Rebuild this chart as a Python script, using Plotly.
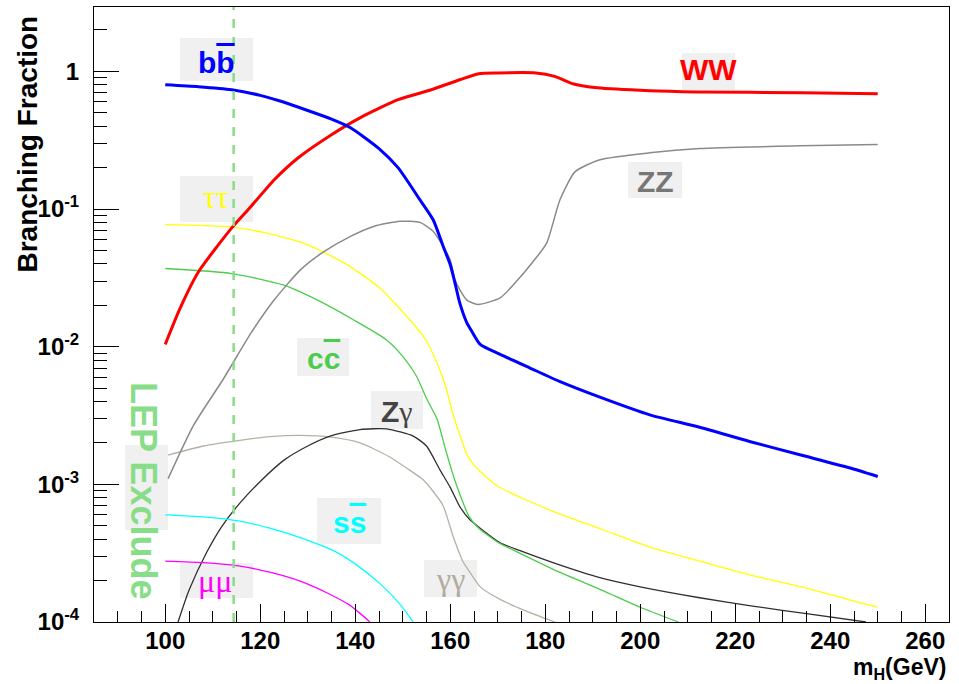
import plotly.graph_objects as go

# ---------------- data ----------------
mass_bb = [100, 107, 114, 120, 124, 130, 135, 139, 145, 149, 153.6, 156.4, 158.5, 160, 161, 162,
           163.5, 164.5, 166.3, 170.5, 176.8, 183, 191.5, 202, 212.5, 223, 233.6, 244, 250]
br_bb = [0.80, 0.775, 0.736, 0.67, 0.612, 0.52, 0.45, 0.39, 0.275, 0.2, 0.117, 0.0836, 0.0537, 0.0394,
         0.029, 0.0208, 0.0149, 0.013, 0.0104, 0.0088, 0.0070, 0.0056, 0.0043, 0.0032, 0.0026,
         0.00205, 0.00164, 0.00132, 0.00114]

mass_ww = [100, 103, 107, 114, 118, 123, 128, 135, 141, 149, 156, 162, 166, 170, 178, 182, 186,
           191, 202, 212, 234, 250]
br_ww = [0.0104, 0.0186, 0.035, 0.073, 0.104, 0.164, 0.236, 0.347, 0.46, 0.623, 0.736, 0.87,
         0.962, 0.975, 0.975, 0.92, 0.81, 0.76, 0.724, 0.71, 0.70, 0.689]

mass_zz = [100.6, 106, 112.2, 118, 123, 128.4, 133, 138.9, 144, 149.4, 153.6, 156.4, 158.5, 160,
           161, 162, 163.5, 165.8, 170.5, 174, 177.5, 180.3, 183.1, 186.3, 191.5, 202, 212.5,
           233.6, 250]
br_zz = [0.0011, 0.0027, 0.0058, 0.0125, 0.022, 0.036, 0.048, 0.063, 0.075, 0.0815, 0.08, 0.069,
         0.0535, 0.0427, 0.0306, 0.026, 0.0218, 0.0203, 0.0226, 0.030, 0.0418, 0.0566, 0.117,
         0.187, 0.228, 0.256, 0.275, 0.288, 0.295]

mass_tautau = [100, 114, 122, 130, 138, 145, 151.5, 155, 157.2, 159, 160.5, 162, 163.5, 165, 167,
               170, 176, 183, 192, 202, 212, 223, 234, 244, 250]
br_tautau = [0.077, 0.074, 0.066, 0.055, 0.04, 0.027, 0.0157, 0.011, 0.0076, 0.0052, 0.0033,
             0.0023, 0.00165, 0.00138, 0.00118, 0.00097, 0.00077, 0.00061, 0.00047, 0.00035,
             0.00028, 0.00022, 0.00018, 0.000145, 0.000128]

mass_cc = [100, 114, 125, 133, 139.6, 146.6, 150, 152.9, 155, 157.2, 159, 160.5, 162, 164, 166,
           170, 176, 183, 192, 200, 208]
br_cc = [0.037, 0.034, 0.028, 0.021, 0.0157, 0.0112, 0.0085, 0.0061, 0.0042, 0.0030, 0.0018,
         0.0012, 0.00085, 0.00058, 0.00048, 0.00038, 0.0003, 0.00023, 0.00017, 0.000128, 0.0001]

mass_zgam = [102.7, 105, 108.7, 112, 115.7, 120, 125, 130, 134.7, 141, 146.6, 152.2, 155, 157.8,
             160, 162, 164, 166.3, 170.5, 174.7, 183, 191.5, 200, 212.5, 224, 235, 247.5]
br_zgam = [1e-4, 1.7e-4, 3.2e-4, 5e-4, 7.3e-4, 0.00105, 0.0015, 0.0019, 0.00224, 0.0025, 0.00253,
           0.00224, 0.0019, 0.00128, 0.00095, 0.00069, 0.00056, 0.00048, 0.000376, 0.00033,
           0.00026, 0.00021, 0.00018, 0.00015, 0.00013, 0.000115, 0.0001]

mass_gamgam = [100.6, 108, 115.7, 122, 128.4, 135, 141, 147, 151, 154.3, 156.5, 158.5, 160.6,
               162.7, 164.5, 166.3, 170.5, 176, 182]
br_gamgam = [0.00163, 0.0019, 0.00209, 0.00222, 0.00227, 0.0022, 0.002, 0.0016, 0.0013, 0.00108,
             0.00088, 0.0007, 0.00042, 0.000274, 0.00022, 0.00018, 0.000146, 0.00012, 0.0001]

mass_ss = [100, 108, 115.7, 122, 128.4, 135.4, 139.6, 145.2, 149.4, 152.2]
br_ss = [6.0e-4, 5.8e-4, 5.4e-4, 4.8e-4, 4.1e-4, 3.3e-4, 2.7e-4, 1.9e-4, 1.35e-4, 1.0e-4]

mass_mumu = [100, 108, 115.7, 122, 128.4, 134, 138.9, 143.1]
br_mumu = [2.77e-4, 2.7e-4, 2.55e-4, 2.3e-4, 1.98e-4, 1.63e-4, 1.32e-4, 1.0e-4]

lep_limit = 114.4

x_ticks = [100, 120, 140, 160, 180, 200, 220, 240, 260]
y_ticks = [1e-4, 1e-3, 1e-2, 1e-1, 1]
y_ticktext = ["10<sup>-4</sup>", "10<sup>-3</sup>", "10<sup>-2</sup>", "10<sup>-1</sup>", "1"]

# ---------------- layout geometry ----------------
W, H = 959, 684
L, R, T, B = 94, 10, 7, 62
PW, PH = W - L - R, H - T - B


def px(x):
    return (x - L) / PW


def py(y):
    return (H - B - y) / PH


SANS = "Liberation Sans"
SERIF = "Liberation Serif"

fig = go.Figure()

series = [
    (mass_gamgam, br_gamgam, "#b8b0a4", 1.3),
    (mass_zgam, br_zgam, "#303030", 1.3),
    (mass_mumu, br_mumu, "#ff00ff", 1.3),
    (mass_ss, br_ss, "#00ffff", 1.3),
    (mass_cc, br_cc, "#4ccc4c", 1.3),
    (mass_tautau, br_tautau, "#ffff00", 1.3),
    (mass_zz, br_zz, "#8a8a8a", 1.5),
    (mass_ww, br_ww, "#ff0000", 3),
    (mass_bb, br_bb, "#0000ff", 3),
]
for m, br, col, w in series:
    fig.add_trace(go.Scatter(x=m, y=br, mode="lines",
                             line=dict(color=col, width=w, shape="spline", smoothing=0.6),
                             showlegend=False, hoverinfo="skip"))

minor_y = [k * 10 ** e for e in range(-4, 1) for k in range(2, 10) if k * 10 ** e < 2.95]
minor_x = [v for v in range(90, 265, 5) if v not in x_ticks]

fig.update_xaxes(
    range=[85, 265], tickvals=x_ticks, ticks="inside", ticklen=18, tickwidth=1, tickcolor="black",
    showline=True, linecolor="black", linewidth=1, mirror=True, showgrid=False, zeroline=False,
    ticklabelstandoff=-3,
    tickfont=dict(family=SANS, size=24, color="black", weight="bold"),
    minor=dict(tickvals=minor_x, ticks="inside", ticklen=11, tickcolor="black", tickwidth=1,
               showgrid=False),
)
fig.update_yaxes(
    type="log", range=[-4, 0.468], tickvals=y_ticks, ticktext=y_ticktext, ticks="inside",
    ticklen=25, tickwidth=1, tickcolor="black", showline=True, linecolor="black", linewidth=1,
    mirror=True, showgrid=False, zeroline=False, ticklabelstandoff=9,
    tickfont=dict(family=SANS, size=24, color="black", weight="bold"),
    minor=dict(tickvals=minor_y, ticks="inside", ticklen=13, tickcolor="black", tickwidth=1,
               showgrid=False),
)

# LEP exclusion line
fig.add_shape(type="line", xref="x", yref="paper", x0=lep_limit, x1=lep_limit, y0=0, y1=1,
              line=dict(color="#88dd88", width=2.5, dash="dash"))

# label boxes
boxes = [(180, 38, 253, 81), (180, 176, 253, 222), (682, 53, 735, 90), (628, 162, 682, 198),
         (297, 338, 349, 376), (371, 391, 423, 429), (317, 498, 381, 544), (424, 560, 477, 597),
         (180, 563, 253, 598), (125, 445, 168, 530)]
for x0, y0, x1, y1 in boxes:
    fig.add_shape(type="rect", xref="paper", yref="paper", x0=px(x0), x1=px(x1), y0=py(y1),
                  y1=py(y0), fillcolor="#f0f0f0", line=dict(width=0), layer="below")

OL = '<span style="text-decoration:overline">{}</span>'
labels = [
    ("b" + OL.format("b"), 216, 62, "#0000ff", SANS, "bold", 30),
    ("WW", 708, 70, "#ff0000", SANS, "bold", 30),
    ("ZZ", 655, 181, "#777777", SANS, "bold", 30),
    ("ττ", 216, 197, "#ffff00", SERIF, "normal", 32),
    ("c" + OL.format("c"), 323, 358, "#4ccc4c", SANS, "bold", 30),
    ('Z<span style="font-family:Liberation Serif;font-weight:normal">γ</span>', 397, 411,
     "#444444", SANS, "bold", 30),
    ("s" + OL.format("s"), 349, 522, "#00ffff", SANS, "bold", 30),
    ("γγ", 450, 579, "#b3aba0", SERIF, "normal", 32),
    ("μμ", 215, 581, "#ff00ff", SERIF, "normal", 32),
]
for txt, x, y, col, fam, wt, sz in labels:
    fig.add_annotation(text=txt, xref="paper", yref="paper", x=px(x), y=py(y), showarrow=False,
                       xanchor="center", yanchor="middle",
                       font=dict(family=fam, size=sz, color=col, weight=wt))

fig.add_annotation(text="LEP Exclude", xref="paper", yref="paper", x=px(144), y=py(490),
                   showarrow=False, textangle=90, xanchor="center", yanchor="middle",
                   font=dict(family=SANS, size=36, color="#88dd88", weight="bold"))

# axis titles
fig.add_annotation(text="Branching Fraction", xref="paper", yref="paper", x=px(27), y=py(14),
                   showarrow=False, textangle=-90, xanchor="center", yanchor="top",
                   font=dict(family=SANS, size=28, color="black", weight="bold"))
fig.add_annotation(text="m<sub>H</sub>(GeV)", xref="paper", yref="paper", x=px(947), y=py(684),
                   showarrow=False, xanchor="right", yanchor="bottom", borderpad=0,
                   font=dict(family=SANS, size=23, color="black", weight="bold"))

fig.update_layout(width=W, height=H, margin=dict(l=L, r=R, t=T, b=B),
                  paper_bgcolor="white", plot_bgcolor="white", showlegend=False)

fig.write_html("out.html")
